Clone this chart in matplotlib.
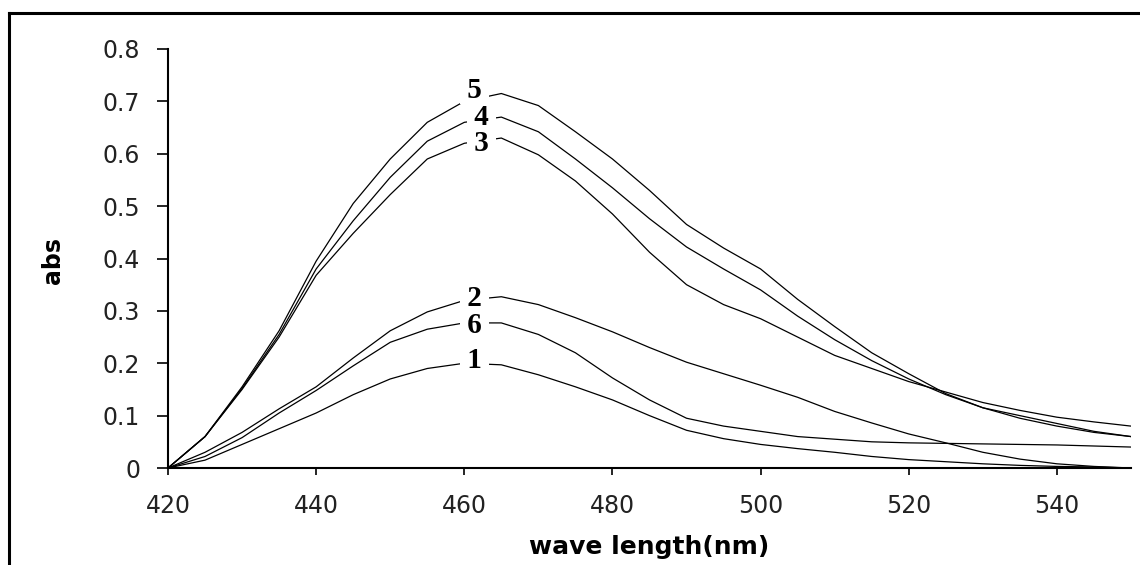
import matplotlib
matplotlib.use("Agg")
import matplotlib.pyplot as plt
from matplotlib.lines import Line2D

# wavelength (nm) and absorbance of the six spectra
wl = [420, 425, 430, 435, 440, 445, 450, 455, 460, 465, 470, 475, 480, 485,
      490, 495, 500, 505, 510, 515, 520, 525, 530, 535, 540, 545, 550]

abs_1 = [0, 0.015, 0.045, 0.075, 0.105, 0.14, 0.17, 0.19, 0.2, 0.197,
         0.178, 0.155, 0.13, 0.10, 0.072, 0.056, 0.045, 0.037, 0.03, 0.022,
         0.016, 0.012, 0.008, 0.005, 0.003, 0.002, 0.0]
abs_2 = [0, 0.03, 0.068, 0.113, 0.155, 0.21, 0.262, 0.298, 0.32, 0.327,
         0.312, 0.287, 0.26, 0.23, 0.202, 0.18, 0.158, 0.135, 0.108, 0.086,
         0.065, 0.048, 0.03, 0.017, 0.008, 0.003, 0.0]
abs_3 = [0, 0.06, 0.15, 0.25, 0.368, 0.448, 0.522, 0.59, 0.62, 0.63,
         0.598, 0.548, 0.485, 0.412, 0.35, 0.312, 0.285, 0.25, 0.215, 0.19,
         0.165, 0.145, 0.125, 0.11, 0.097, 0.088, 0.08]
abs_4 = [0, 0.06, 0.152, 0.255, 0.38, 0.472, 0.555, 0.624, 0.66, 0.67,
         0.642, 0.59, 0.535, 0.476, 0.422, 0.38, 0.34, 0.29, 0.245, 0.205,
         0.17, 0.14, 0.115, 0.095, 0.08, 0.068, 0.06]
abs_5 = [0, 0.06, 0.155, 0.262, 0.395, 0.505, 0.59, 0.66, 0.70, 0.715,
         0.692, 0.642, 0.59, 0.53, 0.465, 0.42, 0.38, 0.322, 0.27, 0.22,
         0.18, 0.142, 0.115, 0.10, 0.085, 0.07, 0.06]
abs_6 = [0, 0.022, 0.058, 0.105, 0.148, 0.195, 0.24, 0.265, 0.277, 0.277,
         0.255, 0.22, 0.172, 0.13, 0.095, 0.08, 0.07, 0.06, 0.055, 0.05,
         0.048, 0.047, 0.046, 0.045, 0.044, 0.042, 0.04]

series = [abs_1, abs_2, abs_3, abs_4, abs_5, abs_6]

# curve labels: text, wavelength, absorbance
label_text = ["5", "4", "3", "2", "6", "1"]
label_x = [461.4, 462.3, 462.3, 461.4, 461.4, 461.4]
label_y = [0.721, 0.670, 0.620, 0.324, 0.273, 0.206]

x_ticks = [420, 440, 460, 480, 500, 520, 540]
y_ticks = [0, 0.1, 0.2, 0.3, 0.4, 0.5, 0.6, 0.7, 0.8]
y_tick_labels = ["0", "0.1", "0.2", "0.3", "0.4", "0.5", "0.6", "0.7", "0.8"]

W, H = 1140, 565
fig = plt.figure(figsize=(W / 100, H / 100), dpi=100)
ax = fig.add_axes([168 / W, 97 / H, (1131 - 168) / W, 419 / H])

for ys in series:
    ax.plot(wl, ys, color="black", linewidth=0.9, zorder=2)

for t, x, y in zip(label_text, label_x, label_y):
    ax.text(x, y, " " + t + " ", ha="center", va="center",
            family="Liberation Serif", fontweight="bold", fontsize=21,
            zorder=3,
            bbox=dict(boxstyle="square,pad=0.0", facecolor="white",
                      edgecolor="none"))

ax.set_xlim(420, 550)
ax.set_ylim(0, 0.8)
ax.set_xticks(x_ticks)
ax.set_yticks(y_ticks)
ax.set_yticklabels(y_tick_labels)

for side in ("top", "right"):
    ax.spines[side].set_visible(False)
for side in ("left", "bottom"):
    ax.spines[side].set_linewidth(1.5)

ax.tick_params(axis="y", direction="out", length=8, width=1.2, pad=12,
               labelsize=17, colors="black")
ax.tick_params(axis="x", direction="out", length=5, width=1.2, pad=14,
               labelsize=17, colors="black")
for lab in ax.get_xticklabels() + ax.get_yticklabels():
    lab.set_color("#222222")

ax.set_xlabel("wave length(nm)", fontsize=18, fontweight="bold")
ax.xaxis.set_label_coords(0.5, (468 - 547) / 419)
ax.xaxis.label.set_va("center")

fig.text(53 / W, 1 - 261 / H, "abs", rotation=90, ha="center", va="center",
         fontsize=17, fontweight="bold")

# outer frame (top and left edges only)
fig.add_artist(Line2D([8.5 / W, 1], [1 - 12.5 / H, 1 - 12.5 / H],
                      transform=fig.transFigure, color="black", linewidth=2.2))
fig.add_artist(Line2D([8.5 / W, 8.5 / W], [0, 1 - 12.5 / H],
                      transform=fig.transFigure, color="black", linewidth=2.2))

fig.savefig("out.png", dpi=100)
